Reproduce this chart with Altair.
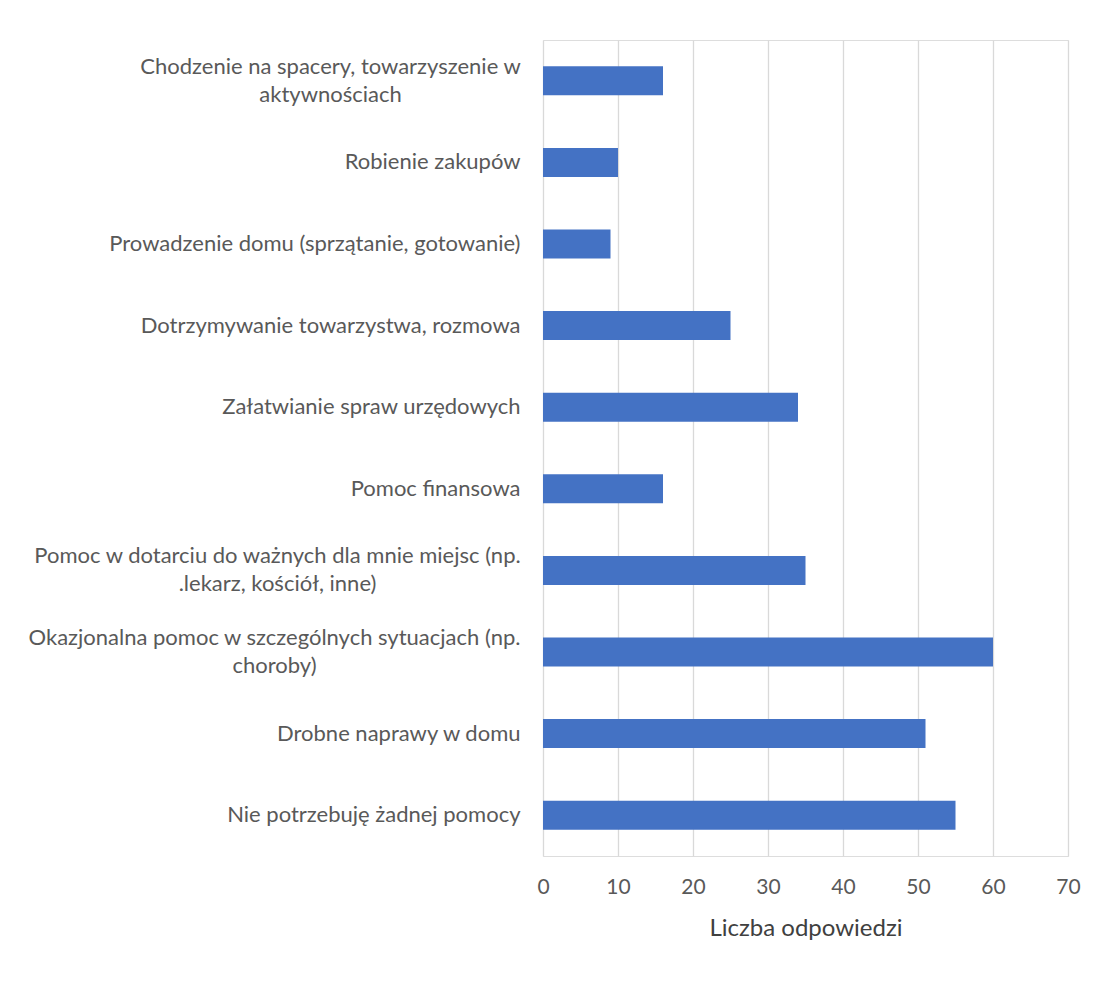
import altair as alt
import pandas as pd

categories = [
    "Chodzenie na spacery, towarzyszenie w|aktywnościach",
    "Robienie zakupów",
    "Prowadzenie domu (sprzątanie, gotowanie)",
    "Dotrzymywanie towarzystwa, rozmowa",
    "Załatwianie spraw urzędowych",
    "Pomoc finansowa",
    "Pomoc w dotarciu do ważnych dla mnie miejsc (np.|.lekarz, kościół, inne)",
    "Okazjonalna pomoc w szczególnych sytuacjach (np.|choroby)",
    "Drobne naprawy w domu",
    "Nie potrzebuję żadnej pomocy",
]
values = [16, 10, 9, 25, 34, 16, 35, 60, 51, 55]
x_ticks = [0, 10, 20, 30, 40, 50, 60, 70]

df = pd.DataFrame({"kategoria": categories, "liczba": values})

FONT = "Lato"
GRAY = "#595959"

multi = "indexof(datum.value, '|') >= 0"

label_padding = {
    "condition": [
        {"test": f"datum.value == '{categories[0]}'", "value": 213},
        {"test": f"datum.value == '{categories[6]}'", "value": 266},
        {"test": f"datum.value == '{categories[7]}'", "value": 269},
    ],
    "value": 23,
}
label_align = {"condition": {"test": multi, "value": "center"}, "value": "right"}
label_offset = {"condition": {"test": multi, "value": -14}, "value": 0}

chart = alt.Chart(df).mark_bar(color="#4472C4").encode(
    x=alt.X(
        "liczba:Q",
        scale=alt.Scale(domain=[0, 70], nice=False),
        axis=alt.Axis(
            values=x_ticks,
            title="Liczba odpowiedzi",
            domain=False,
            ticks=False,
            grid=True,
            gridColor="#D9D9D9",
            gridWidth=1.3,
            labelFlush=False,
            labelFont=FONT,
            labelFontSize=21,
            labelColor=GRAY,
            labelPadding=20,
            titleFont=FONT,
            titleFontSize=24,
            titleFontWeight="normal",
            titleColor="#404040",
            titlePadding=19,
        ),
    ),
    y=alt.Y(
        "kategoria:N",
        sort=categories,
        scale=alt.Scale(paddingInner=0.645, paddingOuter=0.3225),
        axis=alt.Axis(
            title=None,
            domain=False,
            ticks=False,
            labelExpr="split(datum.label, '|')",
            labelFont=FONT,
            labelFontSize=22,
            labelColor=GRAY,
            labelLineHeight=28,
            labelLimit=600,
            labelPadding=label_padding,
            labelAlign=label_align,
            labelOffset=label_offset,
            minExtent=530,
            maxExtent=530,
        ),
    ),
).properties(
    width=525,
    height=816,
    padding={"left": 5, "top": 32, "right": 0, "bottom": 5},
).configure_view(stroke=None).configure(background="white")

chart.save("out.html", embed_options={"renderer": "svg", "actions": False})
